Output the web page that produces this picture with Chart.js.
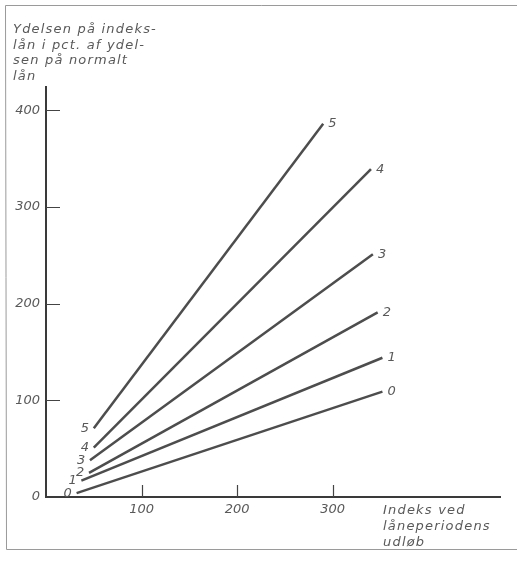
<!DOCTYPE html>
<html>
<head>
<meta charset="utf-8">
<script src="https://cdn.jsdelivr.net/npm/chart.js@4.4.1/dist/chart.umd.min.js"></script>
<style>
  html, body { margin: 0; padding: 0; background: #fff; }
  canvas { display: block; }
</style>
</head>
<body>
<canvas id="chart" width="517" height="562"></canvas>
<script>
// lines, one per label (0..5)
const series = ['0', '1', '2', '3', '4', '5'];
const startIndex = [32, 37, 45, 46, 50, 50];
const startYield = [4, 17, 25, 38, 51, 71];
const endIndex = [352, 352, 347, 342, 340, 290];
const endYield = [109, 144, 191, 251, 339, 386];

const xTicks = [100, 200, 300];
const yTicks = [0, 100, 200, 300, 400];

const yTitle = ['Ydelsen på indeks-', 'lån i pct. af ydel-', 'sen på normalt', 'lån'];
const xTitle = ['Indeks ved', 'låneperiodens', 'udløb'];

const ink = '#595959';
const handFont = 'italic 13px "DejaVu Sans"';

const datasets = series.map((name, i) => ({
    label: name,
    data: [
        { x: startIndex[i], y: startYield[i] },
        { x: endIndex[i], y: endYield[i] }
    ],
    showLine: true,
    borderColor: '#4d4d4d',
    borderWidth: 2.5,
    pointRadius: 0,
    fill: false
}));

// frame, inward tick marks, line numbers and axis titles
const sketch = {
    id: 'sketch',
    beforeDraw(chart) {
        const ctx = chart.ctx;
        ctx.save();
        ctx.strokeStyle = '#9a9a9a';
        ctx.lineWidth = 1;
        ctx.beginPath();
        ctx.moveTo(517, 5.5);
        ctx.lineTo(5.5, 5.5);
        ctx.lineTo(6.5, 549.5);
        ctx.lineTo(517, 549.5);
        ctx.stroke();
        ctx.restore();
    },
    afterDatasetsDraw(chart) {
        const ctx = chart.ctx;
        const xs = chart.scales.x;
        const ys = chart.scales.y;
        ctx.save();

        // tick marks pointing into the plot
        ctx.strokeStyle = '#444';
        ctx.lineWidth = 1.2;
        ctx.beginPath();
        yTicks.forEach(v => {
            if (v === 0) return;
            const py = Math.round(ys.getPixelForValue(v)) + 0.5;
            ctx.moveTo(xs.left, py);
            ctx.lineTo(xs.left + 14, py);
        });
        xTicks.forEach(v => {
            const px = Math.round(xs.getPixelForValue(v)) + 0.5;
            ctx.moveTo(px, ys.bottom);
            ctx.lineTo(px, ys.bottom - 12);
        });
        ctx.stroke();

        ctx.fillStyle = ink;
        ctx.font = handFont;
        ctx.textBaseline = 'middle';
        ctx.letterSpacing = '0.7px';

        // numbers at both ends of each line
        series.forEach((name, i) => {
            const sx = xs.getPixelForValue(startIndex[i]);
            const sy = ys.getPixelForValue(startYield[i]);
            const ex = xs.getPixelForValue(endIndex[i]);
            const ey = ys.getPixelForValue(endYield[i]);
            ctx.textAlign = 'right';
            ctx.fillText(name, sx - 4, sy);
            ctx.textAlign = 'left';
            ctx.fillText(name, ex + 5, ey);
        });

        // axis titles
        ctx.textAlign = 'left';
        ctx.textBaseline = 'alphabetic';
        ctx.letterSpacing = '1.2px';
        yTitle.forEach((t, i) => ctx.fillText(t, 13, 33 + i * 15.5));
        xTitle.forEach((t, i) => ctx.fillText(t, 383, 514 + i * 16));

        ctx.restore();
    }
};

new Chart(document.getElementById('chart'), {
    type: 'scatter',
    data: { datasets: datasets },
    plugins: [sketch],
    options: {
        responsive: false,
        animation: false,
        layout: { padding: { top: 87, right: 17, left: 0, bottom: 0 } },
        plugins: {
            legend: { display: false },
            tooltip: { enabled: false }
        },
        scales: {
            x: {
                type: 'linear',
                min: 0,
                max: 475,
                afterFit: s => { s.height = 65; },
                grid: { display: false, drawTicks: false },
                border: { display: true, color: '#3a3a3a', width: 2 },
                ticks: {
                    stepSize: 100,
                    includeBounds: false,
                    autoSkip: false,
                    maxRotation: 0,
                    padding: 5,
                    color: ink,
                    font: { family: 'DejaVu Sans', size: 13, style: 'italic' },
                    callback: v => (xTicks.includes(v) ? String(v) : '')
                }
            },
            y: {
                type: 'linear',
                min: 0,
                max: 424,
                afterFit: s => { s.width = 46; },
                grid: { display: false, drawTicks: false },
                border: { display: true, color: '#3a3a3a', width: 2 },
                ticks: {
                    stepSize: 100,
                    includeBounds: false,
                    autoSkip: false,
                    padding: 6,
                    color: ink,
                    font: { family: 'DejaVu Sans', size: 13, style: 'italic' },
                    callback: v => (yTicks.includes(v) ? String(v) : '')
                }
            }
        }
    }
});
</script>
</body>
</html>
